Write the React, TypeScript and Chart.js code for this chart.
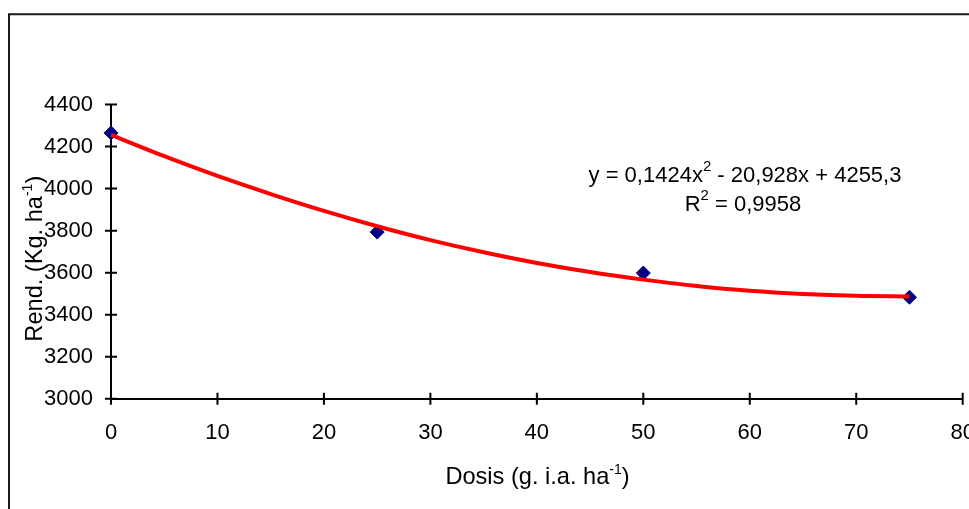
import React, { useEffect, useRef } from "react";
import { Chart, registerables } from "chart.js";

Chart.register(...registerables);

// Observed data (Dosis g i.a./ha, Rendimiento kg/ha)
const doses = [0, 25, 50, 75];
const yields = [4265, 3793, 3598, 3483];

// Trendline values at steps of 5
const trendX = [0, 5, 10, 15, 20, 25, 30, 35, 40, 45, 50, 55, 60, 65, 70, 75];
const trendY = [4255, 4154, 4060, 3974, 3894, 3821, 3755, 3697, 3646, 3603, 3567, 3537, 3514, 3499, 3490, 3487];

// Axis ranges / tick steps
const xRange = [0, 80];
const xStep = 10;
const yRange = [3000, 4400];
const yStep = 200;

// Texts
const xTitleParts = [
  { text: "Dosis (g. i.a. ha", sup: false },
  { text: "-1", sup: true },
  { text: ")", sup: false },
];
const yTitleParts = [
  { text: "Rend. (Kg. ha", sup: false },
  { text: "-1", sup: true },
  { text: ")", sup: false },
];
const eqLine1 = [
  { text: "y = 0,1424x", sup: false },
  { text: "2", sup: true },
  { text: " - 20,928x + 4255,3", sup: false },
];
const eqLine2 = [
  { text: "R", sup: false },
  { text: "2", sup: true },
  { text: " = 0,9958", sup: false },
];

const FONT = "'Liberation Sans', Arial, sans-serif";
const SIZE = 22;
const TITLE_SIZE = 23.6;

type Part = { text: string; sup: boolean };

function drawRich(
  ctx: CanvasRenderingContext2D,
  parts: Part[],
  cx: number,
  baseline: number,
  size: number,
  supSize: number,
  raise: number
) {
  const widths = parts.map((p) => {
    ctx.font = `${p.sup ? supSize : size}px ${FONT}`;
    return ctx.measureText(p.text).width;
  });
  const total = widths.reduce((a, b) => a + b, 0);
  let x = cx - total / 2;
  ctx.textAlign = "left";
  ctx.textBaseline = "alphabetic";
  parts.forEach((p, i) => {
    ctx.font = `${p.sup ? supSize : size}px ${FONT}`;
    ctx.fillText(p.text, x, p.sup ? baseline - raise : baseline);
    x += widths[i];
  });
}

const decorPlugin = {
  id: "decor",
  afterDraw(chart: any) {
    const ctx: CanvasRenderingContext2D = chart.ctx;
    const xs = chart.scales.x;
    const ys = chart.scales.y;
    const area = chart.chartArea;
    ctx.save();
    // outer frame
    ctx.strokeStyle = "#1a1a1a";
    ctx.lineWidth = 2;
    ctx.beginPath();
    ctx.moveTo(9, 600);
    ctx.lineTo(9, 14.3);
    ctx.lineTo(1200, 14.3);
    ctx.stroke();

    // cross tick marks
    ctx.strokeStyle = "#000";
    ctx.lineWidth = 2;
    ctx.beginPath();
    ys.ticks.forEach((t: any) => {
      const py = ys.getPixelForValue(t.value);
      ctx.moveTo(area.left - 6, py);
      ctx.lineTo(area.left + 6, py);
    });
    xs.ticks.forEach((t: any) => {
      const px = xs.getPixelForValue(t.value);
      ctx.moveTo(px, area.bottom - 6);
      ctx.lineTo(px, area.bottom + 6);
    });
    ctx.stroke();

    ctx.fillStyle = "#000";
    // x title
    drawRich(ctx, xTitleParts, 537.5, 483.5, TITLE_SIZE, 14, 10);
    // y title (rotated)
    ctx.save();
    ctx.translate(42, 258.7);
    ctx.rotate(-Math.PI / 2);
    drawRich(ctx, yTitleParts, 0, 0, TITLE_SIZE, 14, 10);
    ctx.restore();
    // equation
    drawRich(ctx, eqLine1, 745, 181.7, SIZE, 15, 11);
    drawRich(ctx, eqLine2, 743, 210.7, SIZE, 15, 11);
    ctx.restore();
  },
};

export default function App() {
  const ref = useRef<HTMLCanvasElement>(null);

  useEffect(() => {
    if (!ref.current) return;
    const chart = new Chart(ref.current, {
      type: "scatter",
      data: {
        datasets: [
          {
            label: "Tendencia",
            data: trendX.map((x, i) => ({ x, y: trendY[i] })),
            showLine: true,
            borderColor: "#ff0000",
            borderWidth: 4,
            pointRadius: 0,
            cubicInterpolationMode: "monotone",
            order: 0,
            clip: false,
          } as any,
          {
            label: "Rendimiento",
            data: doses.map((x, i) => ({ x, y: yields[i] })),
            pointStyle: "rectRot",
            pointRadius: 7,
            pointBackgroundColor: "#000080",
            pointBorderColor: "#000080",
            pointBorderWidth: 1,
            showLine: false,
            order: 1,
            clip: false,
          } as any,
        ],
      },
      options: {
        animation: false,
        responsive: false,
        events: [],
        layout: { padding: { top: 104.5, right: 22.3, bottom: 0, left: 0 } },
        plugins: {
          legend: { display: false },
          tooltip: { enabled: false },
          title: { display: false },
        },
        scales: {
          x: {
            type: "linear",
            min: xRange[0],
            max: xRange[1],
            grid: { display: false, drawTicks: false },
            border: { display: true, color: "#000", width: 2 },
            ticks: {
              stepSize: xStep,
              color: "#000",
              font: { family: FONT, size: SIZE },
              padding: 21,
              maxRotation: 0,
              autoSkip: false,
              callback: (v: any) => String(v),
            },
            afterFit: (s: any) => {
              s.height = 110.2;
              s.paddingLeft = 0;
              s.paddingRight = 0;
            },
          },
          y: {
            type: "linear",
            min: yRange[0],
            max: yRange[1],
            grid: { display: false, drawTicks: false },
            border: { display: true, color: "#000", width: 2 },
            ticks: {
              stepSize: yStep,
              color: "#000",
              font: { family: FONT, size: SIZE },
              padding: 18,
              autoSkip: false,
              callback: (v: any) => String(v),
            },
            afterFit: (s: any) => {
              s.width = 111;
              s.paddingTop = 0;
              s.paddingBottom = 0;
            },
          },
        },
      },
      plugins: [decorPlugin],
    });
    return () => chart.destroy();
  }, []);

  return (
    <div
      style={{
        position: "fixed",
        left: 0,
        top: 0,
        width: 969,
        height: 509,
        overflow: "hidden",
        background: "#fff",
      }}
    >
      <canvas ref={ref} width={985} height={509} style={{ display: "block" }} />
    </div>
  );
}
